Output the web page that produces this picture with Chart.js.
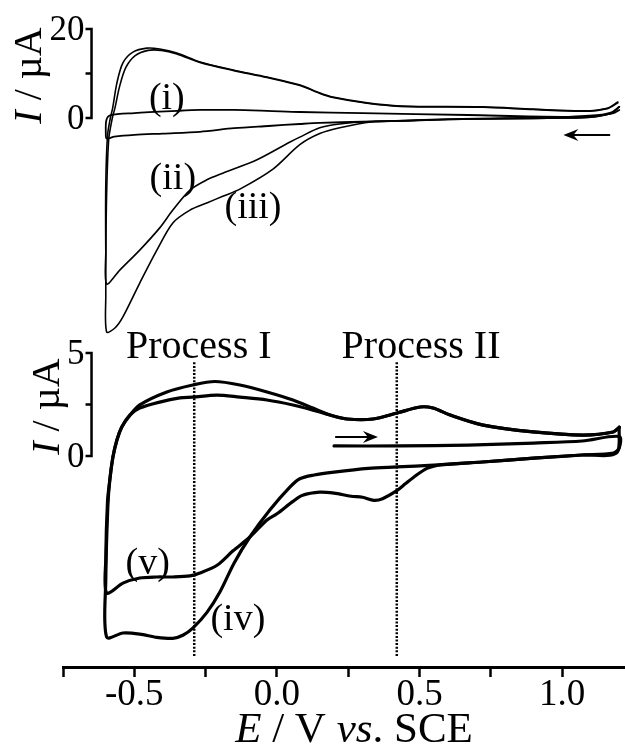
<!DOCTYPE html>
<html>
<head>
<meta charset="utf-8">
<title>Cyclic voltammograms</title>
<script src="https://cdn.jsdelivr.net/npm/chart.js@4.4.1/dist/chart.umd.min.js"></script>
<style>
  html, body { margin: 0; padding: 0; background: #fff; }
  canvas { display: block; }
</style>
</head>
<body>
<canvas id="cv" width="625" height="745"></canvas>
<script>
// Potential (V vs. SCE) / current (µA) pairs, one array per scan.
// Upper panel: (i)-(iii); lower panel: (iv), (v).
const traceI = [
  [1.2, 2.5], [1.17, 1.2], [1.1, 0.4], [1.0, 0.1], [0.8, -0.05], [0.6, -0.25], [0.45, -0.6],
  [0.3, -0.85], [0.15, -1.1], [0.08, -1.35], [-0.03, -1.8], [-0.15, -2.3], [-0.27, -3.1],
  [-0.4, -3.5], [-0.5, -3.8], [-0.57, -4.2], [-0.597, -4.6],
  [-0.6, -3.2], [-0.598, -0.5], [-0.585, 0.6], [-0.5, 1.1], [-0.35, 1.6], [-0.27, 1.8],
  [-0.15, 1.8], [-0.035, 1.6], [0.08, 1.35], [0.3, 1.1], [0.67, 0.67], [1.0, 0.25],
  [1.13, 0.7], [1.18, 1.1], [1.2, 1.8]
];
const traceII = [
  [1.2, 2.5], [1.17, 1.0], [1.1, 0.2], [1.0, 0.0], [0.8, -0.15], [0.6, -0.35], [0.45, -0.6],
  [0.33, -0.8], [0.22, -1.35], [0.15, -2.2], [0.08, -4.3], [0.046, -5.4], [-0.07, -9.4],
  [-0.19, -12.4], [-0.246, -13.9], [-0.305, -16.2], [-0.365, -20.7], [-0.411, -24.7],
  [-0.481, -29.7], [-0.551, -34.2], [-0.597, -37.3],
  [-0.6, -30], [-0.6, -15], [-0.594, -4], [-0.584, 0], [-0.576, 2.2], [-0.561, 7.9], [-0.54, 12.4],
  [-0.505, 14.8], [-0.456, 15.7], [-0.411, 15.5], [-0.351, 14.6], [-0.27, 12.6], [-0.154, 10.8],
  [-0.035, 9.2], [0.081, 7.4], [0.151, 5.6], [0.196, 4.7], [0.316, 3.4], [0.432, 2.7],
  [0.723, 2.5], [0.898, 2.0], [1.074, 1.6], [1.158, 2.2], [1.195, 3.6]
];
const traceIII = [
  [1.2, 2.5], [1.17, 1.0], [1.1, 0.2], [1.0, 0.0], [0.8, -0.15], [0.6, -0.35], [0.45, -0.65],
  [0.33, -0.9], [0.22, -2.2], [0.15, -3.5], [0.08, -6.0], [-0.014, -11.5], [-0.13, -16.0],
  [-0.19, -17.6], [-0.246, -19.1], [-0.305, -20.7], [-0.365, -23.6], [-0.421, -29.7],
  [-0.481, -37.1], [-0.54, -44.7], [-0.568, -47.2], [-0.597, -48.1],
  [-0.6, -40], [-0.598, -20], [-0.59, -5], [-0.577, 0], [-0.567, 2.5], [-0.552, 7], [-0.53, 11.3],
  [-0.497, 14.0], [-0.452, 15.2], [-0.405, 15.2], [-0.351, 14.4], [-0.27, 12.5], [-0.154, 10.7],
  [-0.035, 9.1], [0.081, 7.3], [0.151, 5.5], [0.196, 4.6], [0.316, 3.3], [0.432, 2.6],
  [0.723, 2.4], [0.898, 1.9], [1.074, 1.5], [1.158, 2.1], [1.195, 3.4]
];
const traceIV = [
  [0.2, 0.49], [0.43, 0.49], [0.67, 0.53], [0.9, 0.63], [1.07, 0.73], [1.2, 0.95],
  [1.2, 0.4], [1.18, 0.15], [1.07, 0.05], [0.9, -0.1], [0.72, -0.29], [0.55, -0.44], [0.42, -0.53],
  [0.32, -0.6], [0.2, -0.78], [0.13, -0.92], [0.08, -1.1], [0.046, -1.5], [-0.025, -2.62],
  [-0.095, -3.93], [-0.15, -5.19], [-0.2, -6.6], [-0.246, -7.6], [-0.295, -8.35], [-0.33, -8.7],
  [-0.365, -8.85], [-0.421, -8.8], [-0.481, -8.64], [-0.54, -8.59], [-0.597, -8.79],
  [-0.6, -6], [-0.593, -2.5], [-0.586, -1.17], [-0.575, -0.05], [-0.561, 0.78], [-0.544, 1.41],
  [-0.52, 1.9], [-0.481, 2.48], [-0.386, 3.11], [-0.295, 3.45], [-0.218, 3.62], [-0.13, 3.45],
  [-0.035, 3.11], [0.056, 2.72], [0.126, 2.33], [0.186, 1.99], [0.246, 1.8], [0.337, 1.8],
  [0.421, 2.09], [0.502, 2.38], [0.547, 2.33], [0.607, 1.99], [0.723, 1.5], [0.898, 1.17],
  [1.074, 1.02], [1.179, 1.17], [1.2, 1.4]
];
const traceV = [
  [1.2, 1.4], [1.19, 0.15], [1.07, 0.05], [0.9, -0.1], [0.72, -0.29], [0.58, -0.42],
  [0.526, -0.6], [0.477, -1.05], [0.45, -1.35], [0.42, -1.68], [0.37, -2.07], [0.34, -2.15],
  [0.3, -2.0], [0.26, -1.95], [0.2, -1.8], [0.15, -1.75], [0.09, -1.9], [0.056, -2.2],
  [0.0, -2.8], [-0.035, -3.1], [-0.095, -3.93], [-0.154, -4.6], [-0.21, -5.3], [-0.27, -5.68],
  [-0.305, -5.82], [-0.365, -5.87], [-0.421, -5.87], [-0.481, -5.92], [-0.54, -6.17], [-0.597, -6.65],
  [-0.6, -5], [-0.594, -2.2], [-0.586, -1.17], [-0.575, -0.05], [-0.561, 0.78], [-0.544, 1.41],
  [-0.516, 1.99], [-0.481, 2.33], [-0.411, 2.62], [-0.34, 2.82], [-0.295, 2.86], [-0.211, 2.96],
  [-0.13, 2.86], [-0.035, 2.72], [0.056, 2.48], [0.126, 2.23], [0.186, 1.99], [0.246, 1.8],
  [0.337, 1.8], [0.421, 2.09], [0.502, 2.38], [0.547, 2.33], [0.607, 1.99], [0.723, 1.5],
  [0.898, 1.17], [1.074, 1.02], [1.179, 1.17], [1.2, 1.4]
];

// Axis ticks
const xTickValues = [-0.75, -0.5, -0.25, 0, 0.25, 0.5, 0.75, 1.0];
const xTickText = ['', '-0.5', '', '0.0', '', '0.5', '', '1.0'];
const topTickValues = [0, 10, 20];
const topTickText = ['0', '', '20'];
const botTickValues = [0, 2.5, 5];
const botTickText = ['0', '', '5'];

// Process markers (V) and the current span their dotted lines cover (µA, lower panel)
const processE = [-0.29, 0.42];
const processSpan = [4.55, -9.75];
const processNames = ['Process I', 'Process II'];
const processTextE = [-0.274, 0.505];

// Scan labels: text, potential, current, panel
const scanTags = [
  ['(i)', -0.386, 4.9, 'yTop'],
  ['(ii)', -0.365, -13.0, 'yTop'],
  ['(iii)', -0.084, -19.6, 'yTop'],
  ['(v)', -0.453, -5.1, 'yBot'],
  ['(iv)', -0.137, -7.8, 'yBot']
];
// Scan-direction arrows: tail E, head E, current, panel
const scanArrows = [
  [1.168, 1.004, -3.8, 'yTop'],
  [0.204, 0.354, 0.92, 'yBot']
];

const SERIF = "'Liberation Serif', 'Times New Roman', serif";
const Y_AXIS_AT = -0.65;   // where the current brackets stand on the potential axis

const toXY = pts => pts.map(([x, y]) => ({ x, y }));

function trace(points, axis, width) {
  return {
    data: toXY(points), yAxisID: axis,
    borderColor: '#000', borderWidth: width,
    pointRadius: 0, tension: 0.3, fill: false,
    borderJoinStyle: 'round', borderCapStyle: 'round'
  };
}

// Draw a run of [text, italic] pieces centred on (cx, cy)
function richText(ctx, parts, size, cx, cy, rotation, baseline) {
  ctx.save();
  ctx.translate(cx, cy);
  ctx.rotate(rotation);
  ctx.textBaseline = baseline;
  ctx.textAlign = 'left';
  const fonts = parts.map(([, it]) => `${it ? 'italic ' : ''}${size}px ${SERIF}`);
  const widths = parts.map(([t], i) => { ctx.font = fonts[i]; return ctx.measureText(t).width; });
  let x = -widths.reduce((a, b) => a + b, 0) / 2;
  parts.forEach(([t], i) => { ctx.font = fonts[i]; ctx.fillText(t, x, 0); x += widths[i]; });
  ctx.restore();
}

function bracket(ctx, ax, scale, values, texts, gap) {
  const ys = values.map(v => scale.getPixelForValue(v));
  ctx.lineWidth = 2.5;
  ctx.beginPath();
  ctx.moveTo(ax, Math.max(...ys) + 1.25);
  ctx.lineTo(ax, Math.min(...ys) - 1.25);
  ys.forEach(y => { ctx.moveTo(ax + 1, y); ctx.lineTo(ax - 6, y); });
  ctx.stroke();
  ctx.font = `35px ${SERIF}`;
  ctx.textAlign = 'right';
  ctx.textBaseline = 'middle';
  let widest = 0;
  texts.forEach((t, i) => {
    if (!t) return;
    ctx.fillText(t, ax - 7, ys[i] + 2);
    widest = Math.max(widest, ctx.measureText(t).width);
  });
  const cx = ax - 7 - widest - gap;
  const cy = (Math.min(...ys) + Math.max(...ys)) / 2 + 2;
  richText(ctx, [['I', true], [' / µA', false]], 40, cx, cy, -Math.PI / 2, 'middle');
}

function arrow(ctx, x1, x2, y) {
  const dir = Math.sign(x2 - x1);
  ctx.lineWidth = 2;
  ctx.beginPath();
  ctx.moveTo(x1, y);
  ctx.lineTo(x2 - dir * 8, y);
  ctx.stroke();
  ctx.beginPath();
  ctx.moveTo(x2, y);
  ctx.lineTo(x2 - dir * 15, y - 6);
  ctx.lineTo(x2 - dir * 10, y);
  ctx.lineTo(x2 - dir * 15, y + 6);
  ctx.closePath();
  ctx.fill();
}

const annotate = {
  id: 'annotate',
  afterDraw(chart) {
    const { ctx, scales } = chart;
    const { x } = scales;
    ctx.save();
    ctx.fillStyle = '#000';
    ctx.strokeStyle = '#000';

    const ax = x.getPixelForValue(Y_AXIS_AT);
    bracket(ctx, ax, scales.yTop, topTickValues, topTickText, 19);
    bracket(ctx, ax, scales.yBot, botTickValues, botTickText, 19);

    // potential axis title
    richText(ctx, [['E', true], [' / V ', false], ['vs', true], ['. SCE', false]], 43,
      x.getPixelForValue(0.27), x.bottom - 3, 0, 'alphabetic');

    ctx.font = `40px ${SERIF}`;
    ctx.textAlign = 'center';
    ctx.textBaseline = 'alphabetic';
    processNames.forEach((t, i) => {
      ctx.fillText(t, x.getPixelForValue(processTextE[i]), scales.yBot.getPixelForValue(4.76));
    });

    ctx.font = `38px ${SERIF}`;
    ctx.textBaseline = 'middle';
    scanTags.forEach(([t, e, i, axis]) => {
      ctx.fillText(t, x.getPixelForValue(e), scales[axis].getPixelForValue(i) + 3);
    });

    scanArrows.forEach(([e1, e2, i, axis]) => {
      arrow(ctx, x.getPixelForValue(e1), x.getPixelForValue(e2), scales[axis].getPixelForValue(i));
    });
    ctx.restore();
  }
};

const processSets = processE.map(e => ({
  data: toXY(processSpan.map(i => [e, i])), yAxisID: 'yBot',
  borderColor: '#000', borderWidth: 2.5, borderDash: [2, 1.6],
  pointRadius: 0, fill: false
}));

new Chart(document.getElementById('cv'), {
  type: 'line',
  data: {
    datasets: [
      ...processSets,
      trace(traceI, 'yTop', 1.8),
      trace(traceII, 'yTop', 1.6),
      trace(traceIII, 'yTop', 1.6),
      trace(traceIV, 'yBot', 3.2),
      trace(traceV, 'yBot', 3.2)
    ]
  },
  options: {
    responsive: false,
    animation: false,
    events: [],
    layout: { padding: { left: 63, top: 29, right: 0, bottom: 0 } },
    plugins: { legend: { display: false }, tooltip: { enabled: false } },
    scales: {
      x: {
        type: 'linear',
        min: -0.75,
        max: 1.22,
        afterBuildTicks: s => { s.ticks = xTickValues.map(value => ({ value })); },
        afterFit: s => { s.height = 78; },
        grid: {
          drawOnChartArea: false, drawTicks: true, tickLength: 10,
          tickWidth: 2.5, tickColor: '#000', color: '#000'
        },
        border: { display: true, color: '#000', width: 3 },
        ticks: {
          color: '#000', padding: 0, maxRotation: 0, autoSkip: false,
          font: { family: SERIF, size: 37, lineHeight: 1 },
          callback: (v, i) => xTickText[i]
        }
      },
      // upper panel current scale (µA)
      yTop: { type: 'linear', position: 'left', display: false, min: -123.4, max: 20 },
      // lower panel current scale (µA)
      yBot: { type: 'linear', position: 'left', display: false, min: -10.24, max: 20.73 }
    }
  },
  plugins: [annotate]
});
</script>
</body>
</html>
